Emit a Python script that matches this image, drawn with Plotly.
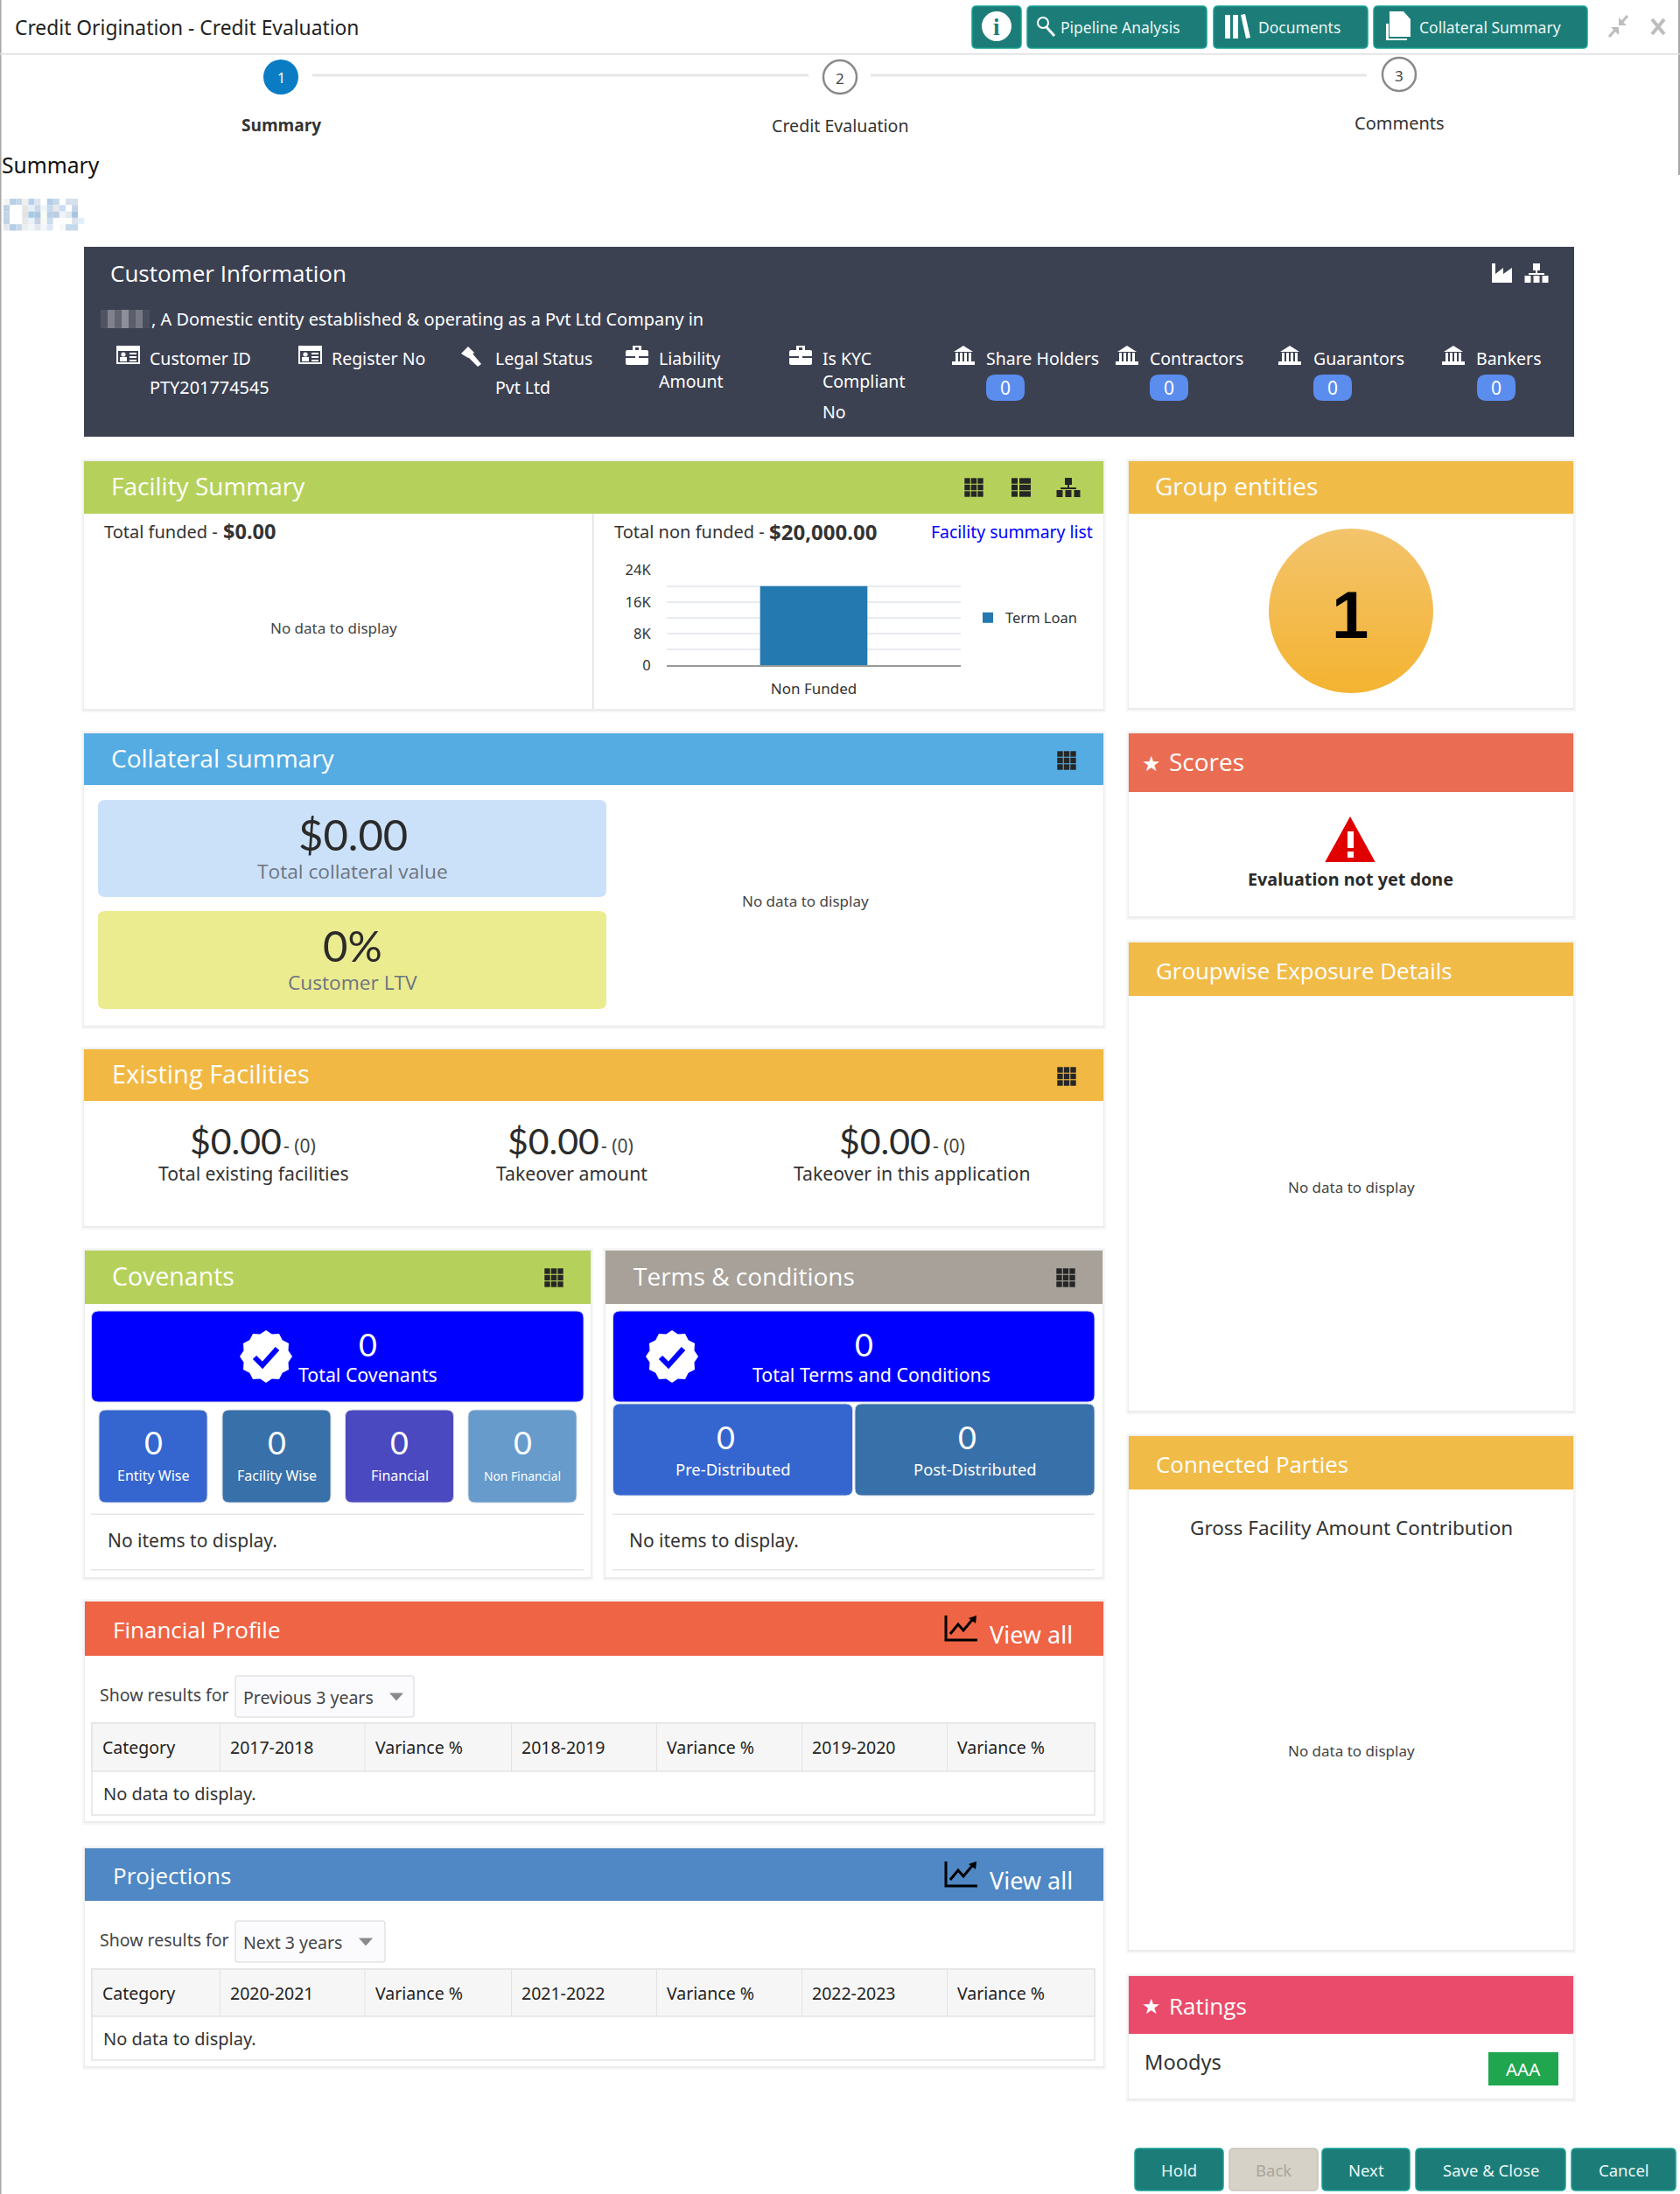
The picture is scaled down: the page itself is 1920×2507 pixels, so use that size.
import math
import plotly.graph_objects as go

# chart data
bar_categories = ["Non Funded"]
bar_values = [20000]
bar_series = "Term Loan"
y_tick_vals = [0, 4000, 8000, 12000, 16000, 20000, 24000]
y_tick_text = ["0", "", "8K", "", "16K", "", "24K"]
group_entities = [1]

# page text
steps = ["Summary", "Credit Evaluation", "Comments"]
info_labels = ["Customer ID", "Register No", "Legal Status"]
party_labels = ["Share Holders", "Contractors", "Guarantors", "Bankers"]
party_counts = [0, 0, 0, 0]
covenant_labels = ["Entity Wise", "Facility Wise", "Financial", "Non Financial"]
covenant_counts = [0, 0, 0, 0]
terms_labels = ["Pre-Distributed", "Post-Distributed"]
terms_counts = [0, 0]
existing_labels = ["Total existing facilities", "Takeover amount", "Takeover in this application"]
fin_headers = ["Category", "2017-2018", "Variance %", "2018-2019", "Variance %", "2019-2020", "Variance %"]
proj_headers = ["Category", "2020-2021", "Variance %", "2021-2022", "Variance %", "2022-2023", "Variance %"]

BODY = "Noto Sans"
HEAD = "Open Sans"
NUM = "Lato"
DARK = "#2b2b2b"
TEAL = "#1c7d78"

shapes = []
annotations = []


def txt(x, y, s, size=18, color=DARK, anchor="left", font=BODY):
    annotations.append(dict(x=x, y=y, xref="x", yref="y", text=s, showarrow=False, xanchor=anchor,
                            yanchor="middle", align=anchor, borderpad=0,
                            font=dict(size=size, color=color, family=font)))


def rect(x0, y0, x1, y1, fill, line=None, width=1):
    shapes.append(dict(type="rect", xref="x", yref="y", x0=x0, y0=y0, x1=x1, y1=y1, layer="below",
                       fillcolor=fill, line=dict(color=line or "rgba(0,0,0,0)", width=width if line else 0)))


def path(d, fill="rgba(0,0,0,0)", line=None, width=1):
    shapes.append(dict(type="path", xref="x", yref="y", path=d, layer="below", fillcolor=fill,
                       line=dict(color=line or "rgba(0,0,0,0)", width=width if line else 0)))


def rrect(x0, y0, x1, y1, r, fill, line=None, width=1):
    d = (f"M{x0+r},{y0} L{x1-r},{y0} Q{x1},{y0} {x1},{y0+r} L{x1},{y1-r} Q{x1},{y1} {x1-r},{y1} "
         f"L{x0+r},{y1} Q{x0},{y1} {x0},{y1-r} L{x0},{y0+r} Q{x0},{y0} {x0+r},{y0} Z")
    path(d, fill, line, width)


def circle(cx, cy, r, fill, line=None, width=1):
    shapes.append(dict(type="circle", xref="x", yref="y", x0=cx-r, x1=cx+r, y0=cy-r, y1=cy+r, layer="below",
                       fillcolor=fill, line=dict(color=line or "rgba(0,0,0,0)", width=width if line else 0)))


def panel(x0, y0, x1, y1, head_bottom, color, title, title_x=None, title_size=28):
    # soft shadow then white body then coloured header
    rect(x0-3, y0-3, x1+3, y1+4, "#f6f6f6")
    rect(x0-1, y0-1, x1+1, y1+2, "#ececec")
    rect(x0, y0, x1, y1, "white")
    rect(x0, y0, x1, head_bottom, color)
    if title:
        # the larger heading style sits a little higher in its bar
        title_y = (y0+head_bottom)/2 + (-2 if title_size >= 27 else 1)
        txt(title_x or x0+30, title_y, title, title_size, "white", font=HEAD)


def grid_icon(cx, cy, color="#262626"):
    for i in (-1, 0, 1):
        for j in (-1, 0, 1):
            rect(cx+i*7.5-3.2, cy+j*7.5-3.2, cx+i*7.5+3.2, cy+j*7.5+3.2, color)


def list_icon(cx, cy, color="#262626"):
    for j in (-1, 0, 1):
        rect(cx-11, cy+j*7.5-3.2, cx-4, cy+j*7.5+3.2, color)
        rect(cx-2, cy+j*7.5-3.2, cx+11, cy+j*7.5+3.2, color)


def org_icon(cx, cy, color="#262626"):
    rect(cx-4, cy-11, cx+4, cy-3, color)
    rect(cx-1, cy-3, cx+1, cy+1, color)
    rect(cx-9, cy, cx+9, cy+2, color)
    for dx in (-10, 0, 10):
        rect(cx+dx-3.5, cy+3, cx+dx+3.5, cy+11, color)


def bank_icon(x0, y0, color="white"):
    path(f"M{x0+13},{y0} L{x0+24},{y0+7} L{x0+2},{y0+7} Z", color)
    for dx in (4, 9, 14, 19):
        rect(x0+dx, y0+8, x0+dx+3, y0+18, color)
    rect(x0, y0+18, x0+26, y0+22, color)


def card_icon(x0, y0, color="white", bg="#3c4152"):
    rect(x0, y0, x0+27, y0+21, color)
    rect(x0+2, y0+6, x0+25, y0+19, bg)
    circle(x0+8, y0+10, 2.6, color)
    rect(x0+4, y0+13, x0+12, y0+18, color)
    rect(x0+15, y0+8, x0+23, y0+10, color)
    rect(x0+15, y0+12, x0+23, y0+14, color)
    rect(x0+15, y0+16, x0+23, y0+18, color)


def case_icon(x0, y0, color="white", bg="#3c4152"):
    rrect(x0, y0+5, x0+26, y0+22, 2, color)
    rect(x0+8, y0, x0+18, y0+5, color)
    rect(x0+11, y0+2, x0+15, y0+5, bg)
    rect(x0, y0+12, x0+26, y0+14, bg)
    rect(x0+11, y0+11, x0+15, y0+16, color)


def gavel_icon(x0, y0, color="white"):
    path(f"M{x0+8},{y0} L{x0+15},{y0+7} L{x0+8},{y0+13} L{x0},{y0+8} Z", color)
    path(f"M{x0+8},{y0+12} L{x0+13},{y0+8} L{x0+23},{y0+20} L{x0+19},{y0+23} Z", color)


def chart_icon(x0, y0, color="black"):
    path(f"M{x0+1},{y0} L{x0+1},{y0+28} L{x0+37},{y0+28}", line=color, width=3)
    path(f"M{x0+6},{y0+21} L{x0+15},{y0+10} L{x0+21},{y0+17} L{x0+31},{y0+5}", line=color, width=3)
    path(f"M{x0+27},{y0+3} L{x0+36},{y0} L{x0+35},{y0+9} Z", color)


def check_badge(cx, cy, r, bg):
    pts = []
    n = 24
    for i in range(n):
        a = 2*math.pi*i/n
        rr = r if i % 2 == 0 else r*0.88
        pts.append(f"{cx+rr*math.sin(a):.1f},{cy-rr*math.cos(a):.1f}")
    path("M" + " L".join(pts) + " Z", "white")
    path(f"M{cx-13},{cy+1} L{cx-4},{cy+10} L{cx+13},{cy-9}", line=bg, width=6)


# window edges
rect(0, 0, 1.5, 2507, "#a8a8a8")
rect(1918, 0, 1920, 200, "#a8a8a8")

# title bar
txt(16, 31, "Credit Origination - Credit Evaluation", 22.8, "#222222")
rect(0, 61, 1920, 62.5, "#dedede")
for x0, x1, label, lx in [(1111, 1167, "", 0), (1174, 1379, "Pipeline Analysis", 1211),
                          (1387, 1563, "Documents", 1437), (1570, 1814, "Collateral Summary", 1621)]:
    rrect(x0, 7, x1, 55, 5, TEAL, "#16a093", 1.5)
    if label:
        txt(lx, 31, label, 17.5, "#eaf5f4")
circle(1139, 30, 17, "white")
txt(1139, 31, "<b>i</b>", 27, TEAL, "center", "Liberation Serif")
circle(1192, 26, 6, "rgba(0,0,0,0)", "white", 2)
path("M1196,31 L1205,41", line="white", width=3)
for x0, x1 in [(1400, 1406), (1409, 1415)]:
    rect(x0, 17, x1, 44, "white")
path("M1418,17 L1423,16 L1429,43 L1424,44 Z", "white")
path("M1584,27 L1584,46 L1608,46 L1608,44 L1587,44 L1587,27 Z", "white")
path("M1588,13 L1604,13 L1612,22 L1612,42 L1588,42 Z", "white")
path("M1860,18 L1853,26 M1839,42 L1846,34", line="#bdbdbd", width=3)
path("M1850,29 L1850,20 L1859,29 Z M1850,31 L1841,31 L1850,40 Z", "#bdbdbd")
path("M1888,22 L1902,39 M1902,22 L1888,39", line="#bdbdbd", width=4)

# stepper
rect(357, 84.5, 924, 87.5, "#e6e6e6")
rect(995, 84.5, 1562, 87.5, "#e6e6e6")
circle(321, 88, 20, "#0a7cc4")
txt(321, 89, "1", 16, "white", "center")
circle(960, 88, 19, "white", "#8a8a8a", 2.5)
txt(960, 89, "2", 17, "#444444", "center")
circle(1599, 85, 19, "white", "#8a8a8a", 2.5)
txt(1599, 86, "3", 17, "#444444", "center")
txt(321, 143, f"<b>{steps[0]}</b>", 19, "#333333", "center", "Open Sans")
txt(960, 143, steps[1], 19.6, "#333333", "center")
txt(1599, 140, steps[2], 20, "#333333", "center")

txt(1, 188, "Summary", 24.6, "#111111")

# pixelated logo
logo_rows = [
    ["f4f4f4", "b9cfe6", "c3d7ea", "f0f0f0", "b8cfe8", "dde6ef", "ffffff", "b5cde8", "c4daec", "ffffff", "d5e0ea", "d5e0ea", "ffffff"],
    ["bcd0e6", "ffffff", "ffffff", "e5e5e5", "e3f0fb", "cdd8e6", "eef5fb", "c5d8ec", "e8e8e8", "c8dcf5", "ffffff", "c6d3e6", "ffffff"],
    ["c5d5e8", "ffffff", "ffffff", "e2e2e2", "a8cbe4", "a8c8e0", "fbfbf3", "b8d0e8", "bccde6", "eef4f8", "e4e8ec", "a4c4e4", "ffffff"],
    ["c0d2e6", "ffffff", "ffffff", "e8e8e8", "e6f3fb", "c6d0e4", "fafaf0", "c8dcee", "ffffff", "ffffff", "ffffff", "dde3ea", "e0f0fb"],
    ["e4e8ec", "b6cde6", "c6d9ec", "eeeeee", "eff6fb", "e6e6ef", "f3f6fa", "dde6f4", "ffffff", "f8f8f8", "c4d9ec", "c4d9ec", "ffffff"],
]
for r, row in enumerate(logo_rows):
    for c, col in enumerate(row):
        rect(4+c*7.1, 227+r*7.3, 4+(c+1)*7.1, 227+(r+1)*7.3, "#"+col)

# customer information
rect(96, 282, 1799, 499, "#3c4152")
txt(125, 312, "Customer Information", 26, "white", font=HEAD)
path("M1705,301 L1709,301 L1709,313 L1718,306 L1718,313 L1728,306 L1728,323 L1705,323 Z", "white")
org_icon(1756, 312, "white")
for c, g in enumerate(["#4f5362", "#7f828c", "#62656f", "#8d9099", "#5a5d6a", "#767984", "#4a4e5d"]):
    rect(115+c*8, 354, 123+c*8, 375, g)
txt(172, 364, ", A Domestic entity established &amp; operating as a Pvt Ltd Company in", 19.9, "white")
card_icon(133, 395)
txt(170, 409, info_labels[0], 19.5, "white")
txt(170, 442, "PTY201774545", 19.9, "white")
card_icon(341, 395)
txt(378, 409, info_labels[1], 19.5, "white")
gavel_icon(527, 396)
txt(565, 409, info_labels[2], 19.5, "white")
txt(565, 442, "Pvt Ltd", 19.5, "white")
case_icon(715, 395)
txt(752, 409, "Liability", 19.5, "white")
txt(752, 435, "Amount", 19.5, "white")
case_icon(902, 395)
txt(939, 409, "Is KYC", 19.5, "white")
txt(939, 435, "Compliant", 19.5, "white")
txt(939, 470, "No", 19.5, "white")
for bx, lx, cx, label, n in zip([1088, 1275, 1461, 1648], [1126, 1313, 1500, 1686], [1149, 1336, 1523, 1710],
                                party_labels, party_counts):
    bank_icon(bx, 395)
    txt(lx, 409, label, 19.5, "white")
    rrect(cx-22, 428, cx+22, 458, 11, "#5b8def")
    txt(cx, 443, str(n), 21, "white", "center")

# facility summary
panel(96, 527, 1261, 810, 587, "#b5d15b", "Facility Summary")
grid_icon(1113, 557)
list_icon(1167, 557)
org_icon(1221, 557)
rect(677, 587, 678.5, 810, "#dde0e4")
txt(118, 607, "Total funded -", 20, "#333333")
txt(254, 607, "<b>$0.00</b>", 23.5, "#333333")
txt(381, 717, "No data to display", 17, "#444444", "center")
txt(701, 607, "Total non funded -", 20, "#333333")
txt(878, 607, "<b>$20,000.00</b>", 24, "#333333")
txt(1250, 607, "Facility summary list", 19.4, "#0000ff", "right")

# group entities
panel(1290, 527, 1798, 809, 587, "#f1bb48", "Group entities", 1319)
txt(1543, 702, f"<b>{group_entities[0]}</b>", 76, "black", "center", "Liberation Sans")

# collateral
panel(96, 838, 1261, 1172, 897, "#55ace3", "Collateral summary")
grid_icon(1219, 869)
rrect(112, 914, 693, 1025, 8, "#cbe1f9")
txt(403, 953, "$0.00", 49, "#2b2b2b", "center", NUM)
txt(403, 995, "Total collateral value", 22.7, "#6b7480", "center", HEAD)
rrect(112, 1041, 693, 1153, 8, "#ebeb90")
txt(403, 1080, "0%", 49, "#2b2b2b", "center", NUM)
txt(403, 1122, "Customer LTV", 22.7, "#6b7480", "center", HEAD)
txt(920, 1029, "No data to display", 17, "#444444", "center")

# scores
panel(1290, 838, 1798, 1047, 905, "#ea6c52", "Scores", 1335)
txt(1316, 873, "★", 24, "white", "center", "DejaVu Sans")
path("M1543,935 L1570,984 L1516,984 Z", "#e00000", "#e00000", 2)
rect(1540, 950, 1547, 969, "white")
rect(1540, 973, 1547, 980, "white")
txt(1543, 1004, "<b>Evaluation not yet done</b>", 19.8, "#2b2b2b", "center")

# existing facilities
panel(96, 1199, 1261, 1401, 1258, "#f1b843", "Existing Facilities", 127, 29)
grid_icon(1219, 1230)
for vx, sx, lx, label in zip([269, 632, 1011], [323, 686, 1065], [290, 653, 1042], existing_labels):
    txt(vx, 1303, "$0.00", 41, "#2b2b2b", "center", NUM)
    txt(sx, 1309, "- (0)", 21, "#444444")
    txt(lx, 1340, label, 21.2, "#333333", "center")

# groupwise exposure
panel(1290, 1077, 1798, 1612, 1138, "#f1bb48", "Groupwise Exposure Details", 1320, 25.9)
txt(1544, 1356, "No data to display", 17, "#444444", "center")

# covenants
panel(97, 1429, 675, 1802, 1490, "#b5d15b", "Covenants", 127, 28.5)
grid_icon(633, 1460)
rrect(104.5, 1498, 667, 1602, 8, "#0000ff", "#cfd6e4", 1)
check_badge(304, 1550, 30, "#0000ff")
txt(420, 1536, "0", 36, "white", "center", NUM)
txt(420, 1570, "Total Covenants", 21.3, "white", "center")
for x0, x1, col, label, n, sz in zip([113, 254, 394.5, 535], [237, 378, 518.5, 659],
                                     ["#3566cf", "#3870a9", "#4b49bf", "#669bcc"],
                                     covenant_labels, covenant_counts, [16, 16, 16, 13.8]):
    rrect(x0, 1611, x1, 1717, 8, col, "#d5dbe6", 1)
    txt((x0+x1)/2, 1648, str(n), 36, "white", "center", NUM)
    txt((x0+x1)/2, 1686, label, sz, "white", "center")
rect(104, 1729.5, 667, 1731, "#e6e6e6")
rect(104, 1793, 667, 1794.5, "#e6e6e6")
txt(122, 1760, "No items to display.", 21, "#333333")

# terms and conditions
panel(692, 1429, 1260, 1802, 1490, "#a7a199", "Terms &amp; conditions", 723)
grid_icon(1218, 1460)
rrect(700.5, 1498, 1251, 1602, 8, "#0000ff", "#cfd6e4", 1)
check_badge(768, 1550, 30, "#0000ff")
txt(987, 1536, "0", 36, "white", "center", NUM)
txt(996, 1570, "Total Terms and Conditions", 21.3, "white", "center")
for x0, x1, nx, lx, col, label, n in zip([700.5, 977], [974.5, 1251], [829, 1105], [838, 1114],
                                         ["#3566cf", "#3870a9"], terms_labels, terms_counts):
    rrect(x0, 1604, x1, 1709, 8, col, "#d5dbe6", 1)
    txt(nx, 1642, str(n), 36, "white", "center", NUM)
    txt(lx, 1678, label, 18.4, "white", "center")
rect(700, 1729.5, 1251, 1731, "#e6e6e6")
rect(700, 1793, 1251, 1794.5, "#e6e6e6")
txt(718, 1760, "No items to display.", 21, "#333333")

# connected parties
panel(1290, 1641, 1798, 2228, 1702, "#f1bb48", "Connected Parties", 1320, 25.9)
txt(1544, 1745, "Gross Facility Amount Contribution", 22.5, "#333333", "center")
txt(1544, 2000, "No data to display", 17, "#444444", "center")

# ratings
panel(1290, 2258, 1798, 2398, 2324, "#ea4b6a", "Ratings", 1335, 26)
txt(1316, 2293, "★", 24, "white", "center", "DejaVu Sans")
txt(1307, 2356, "Moodys", 23.6, "#333333")
rect(1701, 2345, 1781, 2383, "#1fa64e")
txt(1741, 2364, "AAA", 20.5, "white", "center")


def table_block(top, head_bottom, bottom, color, title, view_y, sel_top, sel_right, sel_text, arrow_x,
                t_top, t_mid, t_bot, headers):
    panel(97, top, 1261, bottom, head_bottom, color, title, 128, 26)
    chart_icon(1080, view_y-21)
    txt(1130, view_y, "View all", 27, "white")
    sel_mid = (sel_top + sel_top + 47) / 2
    txt(113, sel_mid-2, "Show results for", 19.5, "#444444")
    rrect(269, sel_top, sel_right, sel_top+47, 3, "#fbfbfe", "#e3e3e6", 1.5)
    txt(277, sel_mid+1, sel_text, 19.5, "#444444")
    path(f"M{arrow_x-8},{sel_mid-4} L{arrow_x+8},{sel_mid-4} L{arrow_x},{sel_mid+5} Z", "#8a8a8a")
    rect(105, t_top, 1251, t_bot, "white", "#e3e3e3", 1.5)
    rect(105, t_top, 1251, t_mid, "#f6f6f6", "#e3e3e3", 1.5)
    cols = [105, 251, 416.5, 584, 750, 916, 1082]
    for cx, h in zip(cols, headers):
        if cx > 105:
            rect(cx, t_top, cx+1, t_mid, "#e3e3e3")
        txt(cx+11, (t_top+t_mid)/2, h, 19.5, "#222222")
    txt(117, (t_mid+t_bot)/2, "No data to display.", 20, "#333333")


table_block(1830, 1892, 2081, "#ef6444", "Financial Profile", 1867, 1915, 473, "Previous 3 years", 453,
            1969, 2024, 2074, fin_headers)
table_block(2112, 2172, 2361, "#4f88c4", "Projections", 2148, 2195, 440, "Next 3 years", 418,
            2250, 2304, 2354, proj_headers)

# bottom buttons
for x0, x1, label, col, tc in [(1297, 1398, "Hold", TEAL, "#eaf5f4"), (1405, 1506, "Back", "#d6d2c8", "#a9a59b"),
                               (1511, 1611, "Next", TEAL, "#eaf5f4"), (1618, 1789, "Save &amp; Close", TEAL, "#eaf5f4"),
                               (1796, 1915, "Cancel", TEAL, "#eaf5f4")]:
    rrect(x0, 2455, x1, 2503, 5, col, "#16a093" if col == TEAL else "#c9c5bb", 1.5)
    txt((x0+x1)/2, 2479, label, 18.5, tc, "center")

# group entities count circle, shaded with a marker gradient
circle_trace = go.Scatter(x=[1544], y=[698], mode="markers", xaxis="x", yaxis="y", showlegend=False, hoverinfo="skip",
                          marker=dict(size=188, color="#f3c46c", line=dict(width=0),
                                      gradient=dict(type="vertical", color="#f4b331")))

bar_trace = go.Bar(x=bar_categories, y=bar_values, name=bar_series, xaxis="x2", yaxis="y2", marker_color="#2479b0",
                   marker_line_width=0, width=0.365, showlegend=True, hoverinfo="skip")

fig = go.Figure([circle_trace, bar_trace])
W, H = 1920, 2507
fig.update_layout(
    width=W, height=H, margin=dict(l=0, r=0, t=0, b=0, autoexpand=False), paper_bgcolor="white",
    plot_bgcolor="rgba(0,0,0,0)", shapes=shapes, annotations=annotations, hovermode=False, barmode="group",
    xaxis=dict(range=[0, W], domain=[0, 1], visible=False, fixedrange=True),
    yaxis=dict(range=[H, 0], domain=[0, 1], visible=False, fixedrange=True),
    xaxis2=dict(domain=[762/W, 1098/W], anchor="y2", type="category", showgrid=False, showline=True, linecolor="#9a9a9a",
                linewidth=2, ticks="outside", ticklen=11, tickcolor="rgba(0,0,0,0)", zeroline=False, fixedrange=True,
                tickfont=dict(size=17, color="#333333", family=BODY)),
    yaxis2=dict(domain=[1-760/H, 1-651.7/H], anchor="x2", range=[0, 24000], tickvals=y_tick_vals, ticktext=y_tick_text,
                gridcolor="#e8ebf0", gridwidth=1.5, showline=False, zeroline=False, fixedrange=True, ticks="outside",
                ticklen=14, tickcolor="rgba(0,0,0,0)", tickfont=dict(size=16.5, color="#333333", family=BODY)),
    legend=dict(x=1109/W, y=1-706/H, xanchor="left", yanchor="middle", bgcolor="rgba(0,0,0,0)", borderwidth=0,
                itemwidth=30, font=dict(size=16.5, color="#333333", family=BODY)),
)

fig.write_html("out.html", config=dict(displayModeBar=False),
               post_script="document.body.style.margin='0';document.body.style.overflow='hidden';")
